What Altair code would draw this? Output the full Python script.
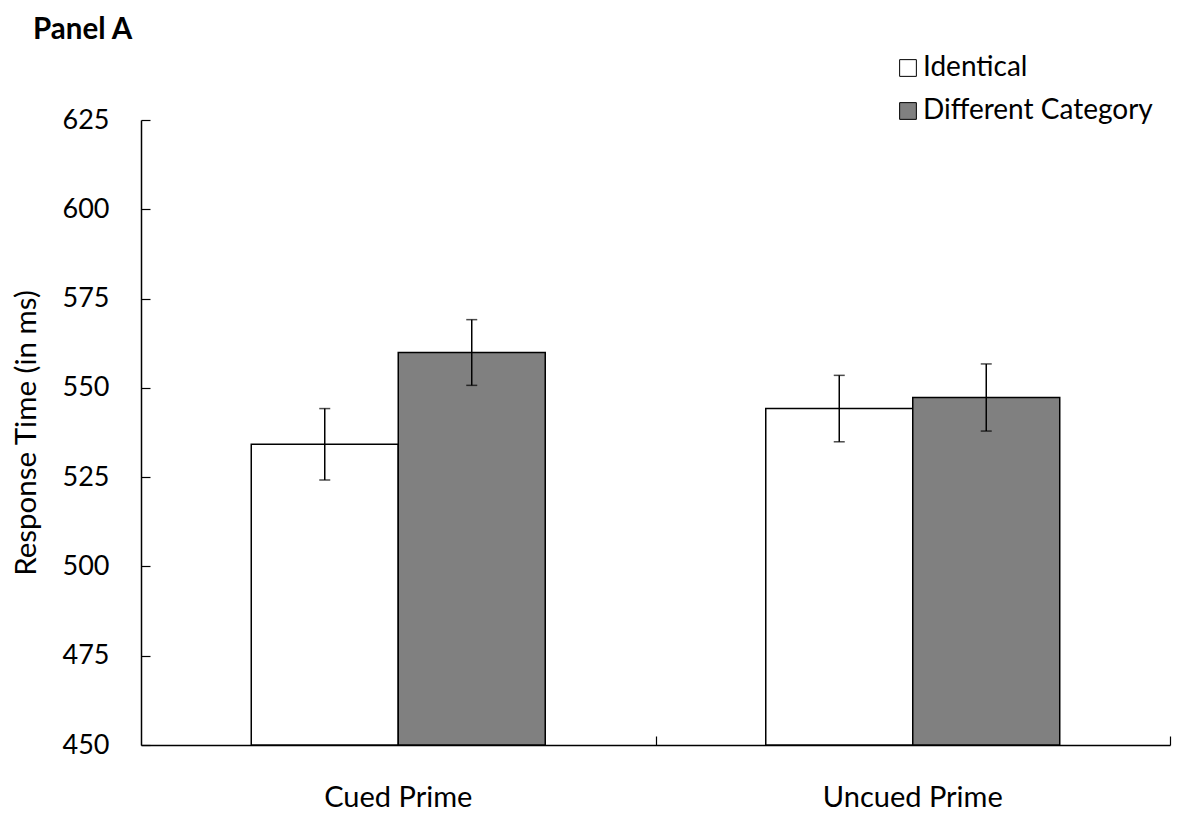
import altair as alt
import pandas as pd

primes = ["Cued Prime", "Cued Prime", "Uncued Prime", "Uncued Prime"]
conditions = ["Identical", "Different Category", "Identical", "Different Category"]
means = [534.2, 559.9, 544.2, 547.3]
errors = [10.0, 9.2, 9.3, 9.4]
y_ticks = [450, 475, 500, 525, 550, 575, 600, 625]
prime_order = ["Cued Prime", "Uncued Prime"]
cond_order = ["Identical", "Different Category"]
cond_colors = ["#ffffff", "#808080"]

df = pd.DataFrame({"prime": primes, "cond": conditions, "rt": means, "err": errors})
df["lo"] = df["rt"] - df["err"]
df["hi"] = df["rt"] + df["err"]

W, H = 1029, 625
FONT = "Lato"
STEP = W / 2.0
PAD_IN = 0.4286

xscale = alt.Scale(paddingInner=PAD_IN, paddingOuter=PAD_IN / 2)
yscale = alt.Scale(domain=[450, 625], nice=False, zero=False)
xoff = alt.XOffset("cond:N", sort=cond_order, scale=alt.Scale(paddingInner=0, paddingOuter=0))

x_axis = alt.Axis(title=None, labelAngle=0, labelFontSize=29, labelPadding=38,
                  labelFont=FONT, labelColor="black", domainColor="black",
                  domainWidth=1.5, ticks=False, tickSize=0, labelLimit=400)
y_axis = alt.Axis(title="Response Time (in ms)", values=y_ticks, labelFontSize=27,
                  labelFont=FONT, labelColor="black", labelPadding=32,
                  ticks=False, tickSize=0, domainColor="black", domainWidth=1.5,
                  grid=False, titleFont=FONT, titleFontSize=29.5,
                  titleFontWeight="normal", titleColor="black", titlePadding=21)

x_main = alt.X("prime:N", sort=prime_order, scale=xscale, axis=x_axis)

bars = alt.Chart(df).mark_bar(stroke="black", strokeWidth=1.5).encode(
    x=x_main,
    xOffset=xoff,
    y=alt.Y("rt:Q", scale=yscale, axis=y_axis),
    y2=alt.datum(450),
    fill=alt.Fill("cond:N", sort=cond_order,
                  scale=alt.Scale(domain=cond_order, range=cond_colors),
                  legend=alt.Legend(title=None, orient="none", legendX=753, legendY=-66,
                                    symbolType="square", symbolSize=280,
                                    symbolStrokeColor="black", symbolStrokeWidth=1,
                                    labelFontSize=28, labelFont=FONT, labelColor="black",
                                    rowPadding=15, labelOffset=1, labelLimit=400)),
)

rules = alt.Chart(df).mark_rule(color="black", strokeWidth=1.5).encode(
    x=x_main,
    xOffset=xoff,
    y=alt.Y("lo:Q", scale=yscale, axis=y_axis),
    y2="hi:Q",
)

caps = alt.Chart(df).transform_fold(["lo", "hi"], as_=["which", "val"]).mark_tick(
    color="black", thickness=1.5, size=11
).encode(
    x=x_main,
    xOffset=xoff,
    y=alt.Y("val:Q", scale=yscale, axis=y_axis),
)

main = alt.layer(bars, rules, caps)

tick_layer = alt.Chart(df).mark_bar(opacity=0).encode(
    x=alt.X("prime:N", sort=prime_order, scale=xscale,
            axis=alt.Axis(orient="top", offset=-H, title=None, labels=False, domain=False,
                          ticks=True, tickSize=9, tickColor="black", tickWidth=1.2,
                          bandPosition=1, tickOffset=STEP * PAD_IN / 2)),
    xOffset=xoff,
    y=alt.Y("rt:Q", scale=yscale,
            axis=alt.Axis(orient="right", offset=-W, title=None, labels=False, domain=False,
                          values=y_ticks, ticks=True, tickSize=9, tickColor="black",
                          tickWidth=1.2, grid=False)),
    y2=alt.datum(450),
)

chart = alt.layer(main, tick_layer).resolve_axis(
    x="independent", y="independent"
).properties(
    width=W, height=H,
    title=alt.TitleParams("Panel A", anchor="start", frame="bounds", fontSize=29.5,
                          font=FONT, fontWeight="bold", color="black", dx=22, offset=9),
    padding={"left": 3, "top": 6, "right": 5, "bottom": 0},
).configure_view(stroke=None)

chart.save("out.html", embed_options={"renderer": "svg", "actions": False})
